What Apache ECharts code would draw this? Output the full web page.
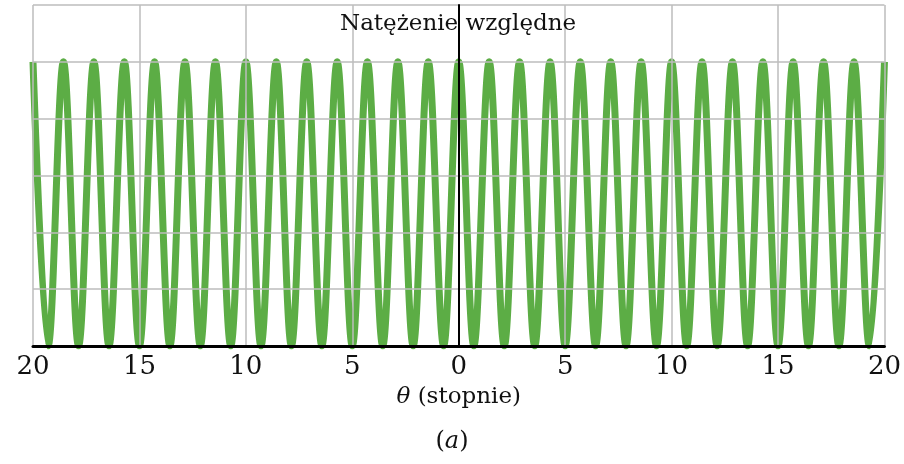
<!DOCTYPE html>
<html>
<head>
<meta charset="utf-8">
<script src="https://cdn.jsdelivr.net/npm/echarts@6/dist/echarts.min.js"></script>
<style>
  html, body { margin: 0; padding: 0; background: #fff; }
  #chart { width: 904px; height: 464px; }
</style>
</head>
<body>
<div id="chart"></div>
<script>
// kąty maksimów (natężenie = 1) i minimów (natężenie = 0)
var peakDeg = [-20, -18.57, -17.14, -15.71, -14.29, -12.86, -11.43, -10, -8.57, -7.14, -5.71, -4.29, -2.86, -1.43,
    0, 1.43, 2.86, 4.29, 5.71, 7.14, 8.57, 10, 11.43, 12.86, 14.29, 15.71, 17.14, 18.57, 20];
var troughDeg = [-19.29, -17.86, -16.43, -15, -13.57, -12.14, -10.71, -9.29, -7.86, -6.43, -5, -3.57, -2.14, -0.71,
    0.71, 2.14, 3.57, 5, 6.43, 7.86, 9.29, 10.71, 12.14, 13.57, 15, 16.43, 17.86, 19.29];
var peakValue = 1;
var troughValue = 0;

var xTicks = [-20, -15, -10, -5, 0, 5, 10, 15, 20];

var points = [];
peakDeg.forEach(function (d) { points.push([d, peakValue]); });
troughDeg.forEach(function (d) { points.push([d, troughValue]); });
points.sort(function (a, b) { return a[0] - b[0]; });

var font = "'DejaVu Serif', 'Liberation Serif', serif";
var myChart = echarts.init(document.getElementById('chart'));

myChart.setOption({
    animation: false,
    backgroundColor: '#fff',
    title: [{
        text: 'Natężenie względne',
        left: 335,
        top: 8,
        textStyle: { fontFamily: font, fontSize: 23, fontWeight: 'normal', color: '#111' }
    }, {
        text: '({i|a})',
        left: 'center',
        top: 425,
        textStyle: {
            fontFamily: font, fontSize: 24, fontWeight: 'normal', color: '#111',
            rich: { i: { fontFamily: font, fontSize: 24, fontStyle: 'italic', color: '#111' } }
        }
    }],
    grid: { left: 33, right: 18, top: 5, bottom: 118 },
    xAxis: {
        type: 'value',
        min: -20,
        max: 20,
        interval: 5,
        z: 5,
        name: '{i|θ} (stopnie)',
        nameLocation: 'middle',
        nameGap: 40,
        nameTextStyle: {
            fontFamily: font, fontSize: 23, color: '#111',
            rich: { i: { fontFamily: font, fontSize: 23, fontStyle: 'italic', color: '#111' } }
        },
        axisLine: { onZero: false, lineStyle: { color: '#000', width: 3 } },
        axisTick: { show: false },
        axisLabel: {
            margin: 8,
            fontFamily: font,
            fontSize: 26,
            color: '#111',
            customValues: xTicks,
            formatter: function (v) { return String(Math.abs(v)); }
        },
        splitLine: { show: true, lineStyle: { color: '#bcbcbc', width: 1.5 } }
    },
    yAxis: {
        type: 'value',
        min: 0,
        max: 1.2,
        interval: 0.2,
        z: 5,
        axisLine: { show: true, onZero: true, lineStyle: { color: '#000', width: 2 } },
        axisTick: { show: false },
        axisLabel: { show: false },
        splitLine: { show: true, lineStyle: { color: '#bcbcbc', width: 1.5 } }
    },
    series: [{
        type: 'line',
        data: points,
        smooth: 0.36,
        symbol: 'none',
        clip: true,
        lineStyle: { color: '#5cad45', width: 7 }
    }]
});
</script>
</body>
</html>
